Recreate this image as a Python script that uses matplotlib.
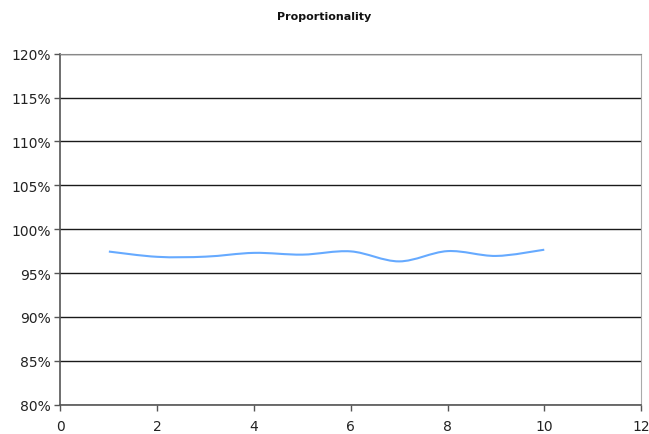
import matplotlib
matplotlib.use('Agg')
import matplotlib.pyplot as plt
from matplotlib.path import Path
from matplotlib.patches import PathPatch
from matplotlib.ticker import FuncFormatter, MultipleLocator

# measurement series
runs = [1, 2, 3, 4, 5, 6, 7, 8, 9, 10]
proportionality = [97.45, 96.85, 96.87, 97.3, 97.1, 97.47, 96.33, 97.5, 96.95, 97.66]

title = 'Proportionality'

fig = plt.figure(figsize=(6.49, 4.35), dpi=100)
ax = fig.add_axes([0.0932, 0.0674, 0.8945, 0.8069])

# smoothed line through the points (cubic bezier, catmull-rom control points)
pts = list(zip(runs, proportionality))
verts = [pts[0]]
codes = [Path.MOVETO]
n = len(pts)
for i in range(n - 1):
    p0 = pts[max(i - 1, 0)]
    p1 = pts[i]
    p2 = pts[i + 1]
    p3 = pts[min(i + 2, n - 1)]
    c1 = (p1[0] + (p2[0] - p0[0]) / 6.0, p1[1] + (p2[1] - p0[1]) / 6.0)
    c2 = (p2[0] - (p3[0] - p1[0]) / 6.0, p2[1] - (p3[1] - p1[1]) / 6.0)
    verts += [c1, c2, p2]
    codes += [Path.CURVE4, Path.CURVE4, Path.CURVE4]
ax.add_patch(PathPatch(Path(verts, codes), facecolor='none',
                       edgecolor='#66aaff', linewidth=1.5, zorder=3))

ax.set_xlim(0, 12)
ax.set_ylim(80, 120)
ax.xaxis.set_major_locator(MultipleLocator(2))
ax.yaxis.set_major_locator(MultipleLocator(5))
ax.yaxis.set_major_formatter(FuncFormatter(lambda v, p: '%d%%' % round(v)))

ax.grid(axis='y', color='#1a1a1a', linewidth=1.0, zorder=1)
ax.set_axisbelow(True)

for side in ['left', 'bottom']:
    ax.spines[side].set_color('#555555')
    ax.spines[side].set_linewidth(1.2)
ax.spines['top'].set_color('#888888')
ax.spines['right'].set_color('#aaaaaa')

ax.tick_params(axis='both', direction='out', length=4, width=1.0,
               color='#555555', labelsize=10, labelcolor='#222222')
ax.tick_params(axis='x', pad=6)
ax.tick_params(axis='y', pad=3)

fig.text(0.5, 0.962, title, ha='center', va='center',
         fontsize=8, fontweight='bold', color='#111111')

fig.savefig('out.png', dpi=100)
